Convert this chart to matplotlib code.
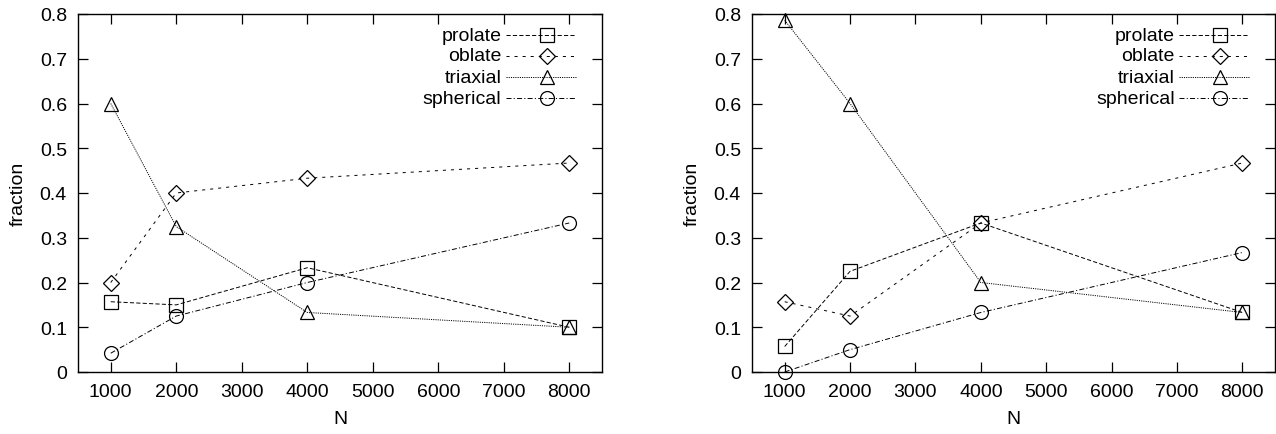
import numpy as np
import matplotlib
matplotlib.use("Agg")
import matplotlib.pyplot as plt
from matplotlib.lines import Line2D

plt.rcParams['font.family'] = ['Liberation Sans', 'DejaVu Sans']
plt.rcParams['font.size'] = 14
plt.rcParams['lines.scale_dashes'] = False

# data
N = [1000, 2000, 4000, 8000]
series_names = ['prolate', 'oblate', 'triaxial', 'spherical']

left_prolate = [0.157, 0.150, 0.233, 0.100]
left_oblate = [0.200, 0.400, 0.433, 0.467]
left_triaxial = [0.600, 0.325, 0.133, 0.100]
left_spherical = [0.042, 0.125, 0.200, 0.333]

right_prolate = [0.057, 0.225, 0.333, 0.133]
right_oblate = [0.157, 0.125, 0.333, 0.467]
right_triaxial = [0.786, 0.600, 0.200, 0.133]
right_spherical = [0.000, 0.050, 0.133, 0.267]

x_ticks = [1000, 2000, 3000, 4000, 5000, 6000, 7000, 8000]
y_ticks = [0, 0.1, 0.2, 0.3, 0.4, 0.5, 0.6, 0.7, 0.8]
y_tick_labels = ['0', '0.1', '0.2', '0.3', '0.4', '0.5', '0.6', '0.7', '0.8']

# gnuplot-like styles: marker, dash pattern (points), marker size
styles = {
    'prolate': ('s', (0, (3.0, 1.6)), 10),
    'oblate': ('D', (0, (2.2, 3.6)), 8),
    'triaxial': ('^', (0, (0.8, 0.8)), 10),
    'spherical': ('o', (0, (3.6, 1.6, 0.8, 1.6)), 10),
}

W, H = 1276, 435
fig = plt.figure(figsize=(W / 100, H / 100), dpi=100)
ax1 = fig.add_axes([78 / W, 62 / H, 524 / W, 358 / H])
ax2 = fig.add_axes([752 / W, 62 / H, 523 / W, 358 / H])

panels = [
    (ax1, [left_prolate, left_oblate, left_triaxial, left_spherical]),
    (ax2, [right_prolate, right_oblate, right_triaxial, right_spherical]),
]

for ax, values in panels:
    for name, vals in zip(series_names, values):
        m, ls, ms = styles[name]
        ax.plot(N, vals, color='black', lw=0.7, linestyle=ls, marker=m,
                ms=ms, mfc='none', mec='black', mew=0.9, clip_on=False)

    ax.set_xlim(500, 8500)
    ax.set_ylim(0, 0.8)
    ax.set_xticks(x_ticks)
    ax.set_yticks(y_ticks)
    ax.set_yticklabels(y_tick_labels)
    ax.tick_params(direction='in', length=7, width=0.9, top=True, right=True,
                   labelsize=14, pad=8)
    for sp in ax.spines.values():
        sp.set_linewidth(1.0)
    ax.set_xlabel('N', fontsize=14, labelpad=7)
    ax.set_ylabel('fraction', fontsize=14, labelpad=9)

    # legend in gnuplot style: right-aligned text, sample to the right
    rows_y = [0.941, 0.883, 0.824, 0.765]
    for name, yy in zip(series_names, rows_y):
        m, ls, ms = styles[name]
        ax.text(0.808, yy, name, transform=ax.transAxes, ha='right',
                va='center', fontsize=14)
        ax.add_line(Line2D([0.817, 0.950], [yy, yy], transform=ax.transAxes,
                           color='black', lw=0.7, linestyle=ls))
        ax.add_line(Line2D([0.895], [yy], transform=ax.transAxes, marker=m,
                           ms=ms, mfc='none', mec='black', mew=0.9,
                           linestyle='none'))

fig.savefig('out.png', dpi=100)
